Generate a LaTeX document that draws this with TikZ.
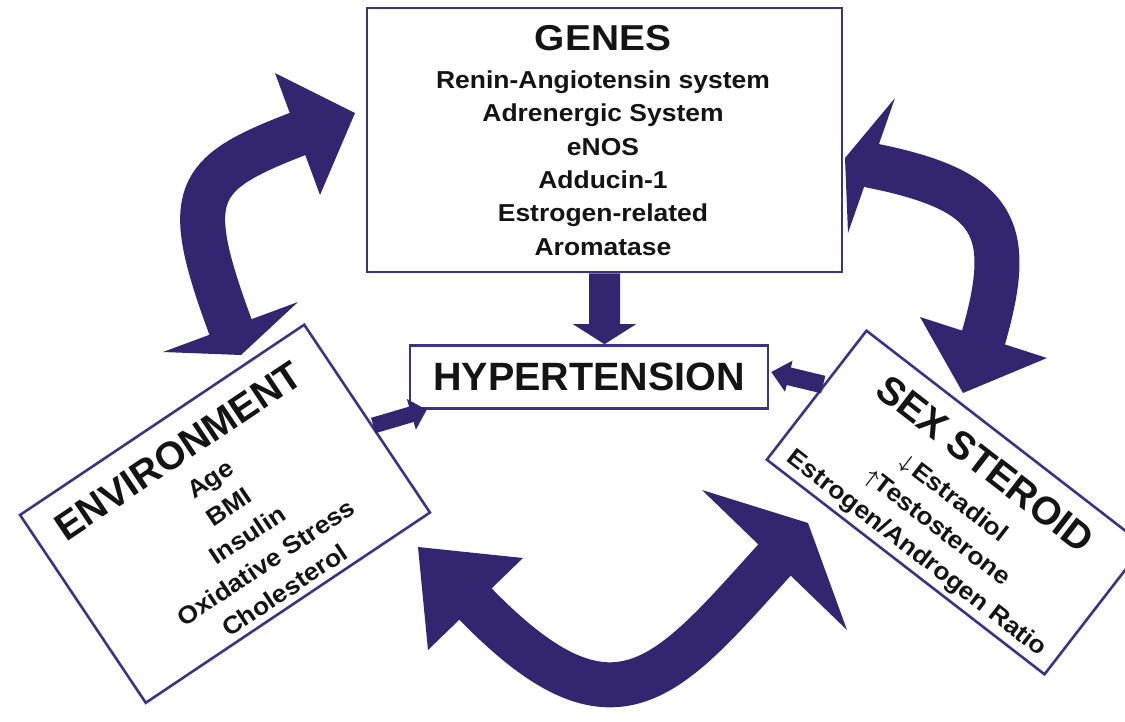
\documentclass[tikz,border=0pt]{standalone}
\usepackage{fontspec}
\usepackage{amsmath}
\setmainfont{Liberation Sans}
\newfontfamily\wsans[FakeStretch=1.08]{Liberation Sans}
\usetikzlibrary{calc}
\definecolor{arrowc}{RGB}{51,37,111}
\definecolor{boxc}{RGB}{62,50,135}
\definecolor{txt}{RGB}{20,20,20}
% straight fat arrow: start, tip, half shaft width, half head width, head length
\newcommand\fatarrow[5]{%
  \coordinate (fab) at ($(#2)!#5!(#1)$);
  \fill[arrowc] ($(#1)!#3!90:(#2)$) -- ($(fab)!#3!90:(#2)$) -- ($(fab)!#4!90:(#2)$) -- (#2)
    -- ($(fab)!#4!-90:(#2)$) -- ($(fab)!#3!-90:(#2)$) -- ($(#1)!#3!-90:(#2)$) -- cycle;}
\newcommand\smallarr[1]{{\fontsize{21}{21}\selectfont$\boldsymbol{#1}$}}
\begin{document}
\begin{tikzpicture}[x=1pt,y=-1pt,
  box/.style={draw=boxc, line width=2.6pt, fill=white, inner sep=0pt},
  bigshaft/.style={draw=arrowc, line width=45pt, line cap=butt, line join=round},
  headfill/.style={fill=arrowc},
  gtitle/.style={font=\wsans\bfseries\fontsize{36}{40}\selectfont, text=txt, anchor=base, inner sep=0pt},
  gitem/.style={font=\wsans\bfseries\fontsize{24.5}{28}\selectfont, text=txt, anchor=base, inner sep=0pt},
  rtitle/.style={font=\bfseries\fontsize{39}{44}\selectfont, text=txt, anchor=base, inner sep=0pt}]
\clip (0,0) rectangle (1125,721);
\fill[white] (0,0) rectangle (1125,721);

% ---------- big curved double arrows ----------
% top-left (environment <-> genes)
\coordinate (tlA) at (230.5,327);
\coordinate (tlB) at (297.5,134);
\draw[bigshaft] (234,336.4) -- (tlA) .. controls (181,193) and (194,174) .. (tlB) -- (306.9,130.5);
\fill[headfill] (275,73) -- (355,113) -- (320,195) -- cycle;
\fill[headfill] (163,352) -- (241,355) -- (298,302) -- cycle;
% top-right (genes <-> sex steroid)
\coordinate (trA) at (871.5,165.5);
\coordinate (trB) at (983.5,337.5);
\draw[bigshaft] (861.9,162.8) -- (trA) .. controls (996.5,190.5) and (1015,228) .. (trB) -- (980,346.9);
\fill[headfill] (895,98) -- (845,158) -- (848,233) -- cycle;
\fill[headfill] (920,317) -- (963,393) -- (1047,358) -- cycle;
% bottom (environment <-> sex steroid)
\coordinate (bA) at (475.5,604);
\coordinate (bB) at (774.5,560);
\draw[bigshaft] (468.4,597) -- (bA) .. controls (615.5,748) and (667.3,678.4) .. (bB) -- (781.2,552.6);
\fill[headfill] (523,558) -- (418,547) -- (428,650) -- cycle;
\fill[headfill] (702,490) -- (808,523) -- (847,630) -- cycle;

% ---------- GENES ----------
\node[box, minimum width=475pt, minimum height=264pt] (genes) at (604.5,140) {};
\node[gtitle] (g0) at (603,50.9) {GENES};
\node[gitem] (g1) at (603,88.5) {Renin-Angiotensin system};
\node[gitem] (g2) at (603,121.8) {Adrenergic System};
\node[gitem] (g3) at (603,155.1) {eNOS};
\node[gitem] (g4) at (603,188.4) {Adducin-1};
\node[gitem] (g5) at (603,221.7) {Estrogen-related};
\node[gitem] (g6) at (603,255.0) {Aromatase};

% ---------- HYPERTENSION ----------
\node[box, minimum width=358pt, minimum height=63pt,
      font=\bfseries\fontsize{39.5}{42}\selectfont, text=txt] (hyp) at (589,377) {HYPERTENSION};

% ---------- ENVIRONMENT ----------
\node[box, rotate=33.8, minimum width=342pt, minimum height=226pt] (env) at (225,513.75) {};
\begin{scope}[shift={(225,513.75)}, rotate=33.8]
  \node[rtitle, rotate=33.8] (e0) at (-3.6,-64.7) {ENVIRONMENT};
  \node[gitem, rotate=33.8] (e1) at (7,-28.75) {Age};
  \node[gitem, rotate=33.8] (e2) at (7,4.75) {BMI};
  \node[gitem, rotate=33.8] (e3) at (7,38.35) {Insulin};
  \node[gitem, rotate=33.8] (e4) at (7,71.85) {Oxidative Stress};
  \node[gitem, rotate=33.8] (e5) at (7,105.45) {Cholesterol};
\end{scope}

% ---------- SEX STEROID ----------
\node[box, rotate=-37.7, minimum width=351pt, minimum height=163pt] (sex) at (955.5,502.5) {};
\begin{scope}[shift={(955.5,502.5)}, rotate=-37.7]
  \node[rtitle, rotate=-37.7] (s0) at (0,-35.7) {SEX STEROID};
  \node[gitem, rotate=-37.7] (s1) at (-4,4.75) {\smallarr{\downarrow}\,Estradiol};
  \node[gitem, rotate=-37.7] (s2) at (1,37.75) {\smallarr{\uparrow}Testosterone};
  \node[gitem, rotate=-37.7] (s3) at (0.6,70.75) {Estrogen/Androgen Ratio};
\end{scope}

% ---------- straight arrows into HYPERTENSION ----------
\fatarrow{genes.south}{genes.south |- hyp.north}{15.5pt}{31.5pt}{20pt}
\coordinate (envOut) at ($(env.east)!0.08!(env.south east)$);
\coordinate (hypL) at ($(hyp.south west)+(18,0)$);
\fatarrow{envOut}{hypL}{8pt}{16pt}{16pt}
\coordinate (sexOut) at ($(sex.west)!0.15!(sex.north west)$);
\coordinate (hypR) at ($(hyp.east)+(2,-5)$);
\fatarrow{sexOut}{hypR}{9pt}{16pt}{18pt}
\end{tikzpicture}
\end{document}
